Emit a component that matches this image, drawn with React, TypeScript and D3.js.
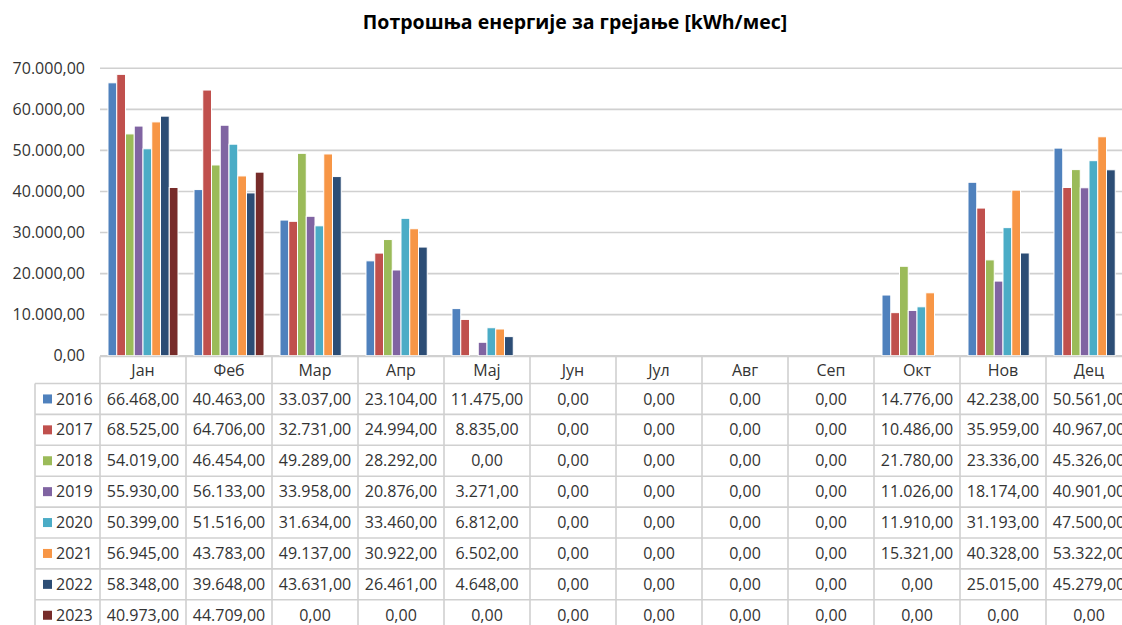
import React from "react";
import * as d3 from "d3";

const months = ["Јан", "Феб", "Мар", "Апр", "Мај", "Јун", "Јул", "Авг", "Сеп", "Окт", "Нов", "Дец"];
const years = ["2016", "2017", "2018", "2019", "2020", "2021", "2022", "2023"];
const colors = ["#4F81BD", "#C0504D", "#9BBB59", "#8064A2", "#4BACC6", "#F79646", "#2C4D75", "#772C2A"];

const v2016 = [66468, 40463, 33037, 23104, 11475, 0, 0, 0, 0, 14776, 42238, 50561];
const v2017 = [68525, 64706, 32731, 24994, 8835, 0, 0, 0, 0, 10486, 35959, 40967];
const v2018 = [54019, 46454, 49289, 28292, 0, 0, 0, 0, 0, 21780, 23336, 45326];
const v2019 = [55930, 56133, 33958, 20876, 3271, 0, 0, 0, 0, 11026, 18174, 40901];
const v2020 = [50399, 51516, 31634, 33460, 6812, 0, 0, 0, 0, 11910, 31193, 47500];
const v2021 = [56945, 43783, 49137, 30922, 6502, 0, 0, 0, 0, 15321, 40328, 53322];
const v2022 = [58348, 39648, 43631, 26461, 4648, 0, 0, 0, 0, 0, 25015, 45279];
const v2023 = [40973, 44709, 0, 0, 0, 0, 0, 0, 0, 0, 0, 0];
const series = [v2016, v2017, v2018, v2019, v2020, v2021, v2022, v2023];

const yTicks = [0, 10000, 20000, 30000, 40000, 50000, 60000, 70000];
const title = "Потрошња енергије за грејање [kWh/мес]";

const fmt = (v: number) => {
  const s = d3.format(",.2f")(v);
  return s.replace(/,/g, "#").replace(".", ",").replace(/#/g, ".");
};

export default function App() {
  const W = 1122, H = 625;
  const plotLeft = 100, plotRight = 1132;
  const y = d3.scaleLinear().domain([0, 70000]).range([355.7, 68.3]);
  const x = d3.scaleBand<string>().domain(months).range([plotLeft, plotRight]).paddingInner(0).paddingOuter(0);
  const inner = d3.scaleBand<string>().domain(years).range([8, x.bandwidth() - 8]);
  const font = "'Open Sans', sans-serif";
  const textColor = "#333333";
  const grid = "#d0d0d0";

  const headerTop = 356.5, headerBottom = 383.5;
  const rowH = 30.9;
  const tableBottom = headerBottom + rowH * years.length;
  const legendLeft = 35;

  return (
    <svg width={W} height={H} style={{ position: "absolute", left: 0, top: 0, background: "#fff" }} fontFamily={font}>
      <text x={575} y={29} textAnchor="middle" fontSize={19.5} fontWeight="bold" fill="#000">{title}</text>

      {yTicks.map((t) => (
        <g key={t}>
          <line x1={plotLeft} x2={W} y1={y(t)} y2={y(t)} stroke={grid} strokeWidth={1.6} />
          <text x={85} y={y(t)} dy="0.35em" textAnchor="end" fontSize={16} fill={textColor}>{fmt(t)}</text>
        </g>
      ))}

      {series.map((vals, si) =>
        vals.map((v, mi) =>
          v > 0 ? (
            <rect
              key={`${si}-${mi}`}
              x={(x(months[mi]) as number) + (inner(years[si]) as number)}
              y={y(v)}
              width={inner.bandwidth()}
              height={y(0) - y(v)}
              fill={colors[si]}
              stroke="#fff"
              strokeWidth={1}
            />
          ) : null
        )
      )}

      <line x1={plotLeft} x2={W} y1={headerTop} y2={headerTop} stroke={grid} strokeWidth={1.6} />
      <line x1={legendLeft} x2={W} y1={headerBottom} y2={headerBottom} stroke={grid} strokeWidth={1.6} />
      {years.map((yr, i) => (
        <line key={yr} x1={legendLeft} x2={W} y1={headerBottom + rowH * (i + 1)} y2={headerBottom + rowH * (i + 1)} stroke={grid} strokeWidth={1.6} />
      ))}
      <line x1={legendLeft} x2={legendLeft} y1={headerBottom} y2={tableBottom} stroke={grid} strokeWidth={1.6} />
      {months.map((m) => (
        <line key={m} x1={x(m) as number} x2={x(m) as number} y1={headerTop} y2={tableBottom} stroke={grid} strokeWidth={1.6} />
      ))}

      {months.map((m) => (
        <text key={m} x={(x(m) as number) + x.bandwidth() / 2} y={(headerTop + headerBottom) / 2} dy="0.35em" textAnchor="middle" fontSize={16} fill={textColor}>{m}</text>
      ))}

      {years.map((yr, i) => {
        const cy = headerBottom + rowH * i + rowH / 2;
        return (
          <g key={yr}>
            <rect x={43} y={cy - 4.5} width={9} height={9} fill={colors[i]} />
            <text x={56} y={cy} dy="0.35em" fontSize={16} fill={textColor}>{yr}</text>
            {series[i].map((v, mi) => (
              <text key={mi} x={(x(months[mi]) as number) + x.bandwidth() / 2} y={cy} dy="0.35em" textAnchor="middle" fontSize={16} fill={textColor}>{fmt(v)}</text>
            ))}
          </g>
        );
      })}
    </svg>
  );
}
